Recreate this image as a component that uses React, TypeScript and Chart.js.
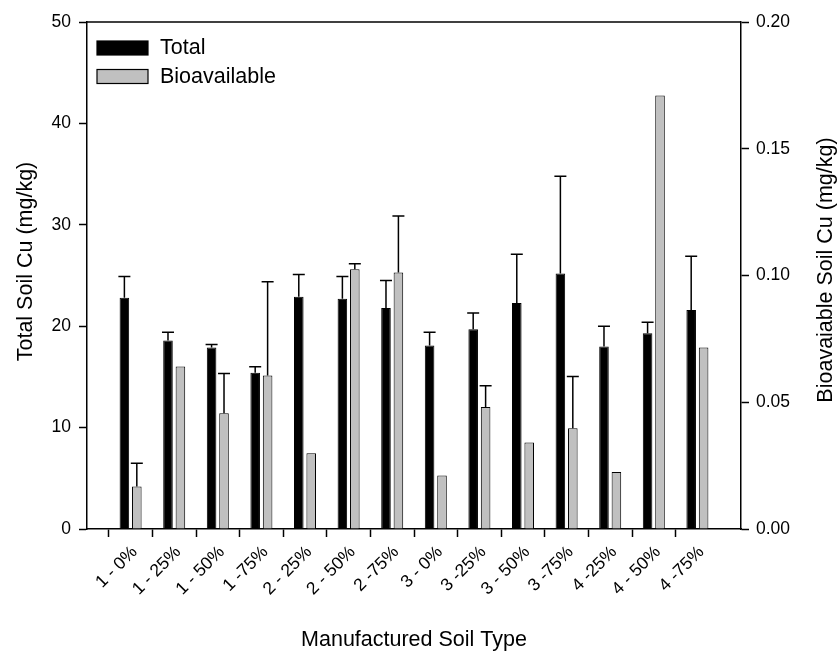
import React, { useEffect, useRef } from 'react';
import { Chart, registerables } from 'chart.js';

Chart.register(...registerables);

// Manufactured soil blends (soil - amendment %)
const categories = [
  '1 - 0%', '1 - 25%', '1 - 50%', '1 -75%', '2 - 25%', '2 - 50%', '2 -75%',
  '3 - 0%', '3 -25%', '3 - 50%', '3 -75%', '4 -25%', '4 - 50%', '4 -75%',
];

// Total soil Cu (mg/kg), left axis
const totalCu = [22.8, 18.6, 17.9, 15.4, 22.9, 22.7, 21.8, 18.1, 19.7, 22.3, 25.2, 18.0, 19.3, 21.6];
const totalCuErr = [2.1, 0.8, 0.3, 0.6, 2.2, 2.2, 2.7, 1.3, 1.6, 4.8, 9.6, 2.0, 1.1, 5.3];

// Bioavailable soil Cu (mg/kg), right axis
const bioCu = [0.0168, 0.0641, 0.0457, 0.0606, 0.0299, 0.1025, 0.1012, 0.0211, 0.0481, 0.0341, 0.0397, 0.0225, 0.171, 0.0716];
const bioCuErr = [0.0091, null, 0.0156, 0.0369, null, 0.0021, 0.0223, null, 0.0084, null, 0.0205, null, null, null];

const leftAxis = { min: 0, max: 50, step: 10 };
const rightAxis = { min: 0, max: 0.2, step: 0.05 };

const seriesNames = ['Total', 'Bioavailable'];
const axisTitles = {
  x: 'Manufactured Soil Type',
  left: 'Total Soil Cu (mg/kg)',
  right: 'Bioavaiable Soil Cu (mg/kg)',
};

const FONT = "'Liberation Sans', Arial, sans-serif";
const GREY = '#c0c0c0';

// pad with an empty slot at each end so the axis spans one extra category on both sides
const pad = (arr: (number | null)[]) => [null, ...arr, null];

const errorBarsPlugin = {
  id: 'errorBars',
  afterDatasetsDraw(chart: any) {
    const ctx = chart.ctx;
    ctx.save();
    ctx.strokeStyle = '#000';
    ctx.lineWidth = 1.5;
    chart.data.datasets.forEach((ds: any, di: number) => {
      const meta = chart.getDatasetMeta(di);
      const yScale = chart.scales[meta.yAxisID];
      meta.data.forEach((el: any, i: number) => {
        const v = ds.data[i];
        const e = ds.errors ? ds.errors[i] : null;
        if (v == null || e == null) return;
        const yTop = yScale.getPixelForValue(v + e);
        ctx.beginPath();
        ctx.moveTo(el.x, el.y);
        ctx.lineTo(el.x, yTop);
        ctx.moveTo(el.x - 6, yTop);
        ctx.lineTo(el.x + 6, yTop);
        ctx.stroke();
      });
    });
    ctx.restore();
  },
};

const decorPlugin = {
  id: 'decor',
  afterDraw(chart: any) {
    const { ctx, chartArea } = chart;
    ctx.save();
    // top frame line
    ctx.strokeStyle = '#000';
    ctx.lineWidth = 1.5;
    ctx.beginPath();
    ctx.moveTo(chartArea.left, chartArea.top);
    ctx.lineTo(chartArea.right, chartArea.top);
    ctx.stroke();

    // legend
    ctx.font = `21.5px ${FONT}`;
    ctx.textBaseline = 'middle';
    ctx.textAlign = 'left';
    chart.data.datasets.forEach((ds: any, i: number) => {
      const by = 41 + i * 28.5;
      ctx.fillStyle = ds.backgroundColor;
      ctx.fillRect(97, by, 51, 14);
      ctx.lineWidth = 1.2;
      ctx.strokeStyle = '#000';
      ctx.strokeRect(97, by, 51, 14);
      ctx.fillStyle = '#000';
      ctx.fillText(ds.label, 160, by + 7.5);
    });

    // axis titles
    ctx.fillStyle = '#000';
    ctx.textBaseline = 'alphabetic';
    ctx.textAlign = 'center';
    ctx.fillText(axisTitles.x, (chartArea.left + chartArea.right) / 2, 646);

    ctx.save();
    ctx.translate(31.5, 261.5);
    ctx.rotate(-Math.PI / 2);
    ctx.fillText(axisTitles.left, 0, 0);
    ctx.restore();

    ctx.save();
    ctx.translate(831.5, 270);
    ctx.rotate(-Math.PI / 2);
    ctx.fillText(axisTitles.right, 0, 0);
    ctx.restore();

    ctx.restore();
  },
};

export default function App() {
  const canvasRef = useRef<HTMLCanvasElement | null>(null);

  useEffect(() => {
    if (!canvasRef.current) return;
    Chart.defaults.color = '#000';
    Chart.defaults.font.family = FONT;

    const labels = ['', ...categories, ''];
    const edgeTick = (c: any) =>
      c.index === 0 || c.index === labels.length - 1 ? 'rgba(0,0,0,0)' : '#000';

    const chart = new Chart(canvasRef.current, {
      type: 'bar',
      data: {
        labels,
        datasets: [
          {
            label: seriesNames[0],
            data: pad(totalCu),
            errors: pad(totalCuErr),
            backgroundColor: '#000',
            borderColor: '#000',
            borderWidth: 1,
            yAxisID: 'y',
            categoryPercentage: 0.57,
            barPercentage: 0.77,
          } as any,
          {
            label: seriesNames[1],
            data: pad(bioCu),
            errors: pad(bioCuErr),
            backgroundColor: GREY,
            borderColor: '#000',
            borderWidth: 1,
            yAxisID: 'y1',
            categoryPercentage: 0.57,
            barPercentage: 0.77,
          } as any,
        ],
      },
      options: {
        responsive: false,
        animation: false,
        layout: { padding: { top: 22, left: 0, right: 0, bottom: 0 } },
        plugins: {
          legend: { display: false },
          tooltip: { enabled: false },
        },
        scales: {
          x: {
            offset: false,
            grid: {
              display: true,
              drawOnChartArea: false,
              drawTicks: true,
              tickLength: 8,
              tickWidth: 1.5,
              tickColor: edgeTick,
            },
            border: { display: true, color: '#000', width: 1.5 },
            ticks: {
              autoSkip: false,
              maxRotation: 45,
              minRotation: 45,
              padding: 5,
              labelOffset: 4,
              font: { size: 17.5, family: FONT },
              color: '#000',
            },
            afterFit: (s: any) => { s.height = 124; },
          },
          y: {
            position: 'left',
            min: leftAxis.min,
            max: leftAxis.max,
            grid: {
              display: true,
              drawOnChartArea: false,
              drawTicks: true,
              tickLength: 8,
              tickWidth: 1.5,
              tickColor: '#000',
            },
            border: { display: true, color: '#000', width: 1.5 },
            ticks: {
              stepSize: leftAxis.step,
              padding: 8,
              font: { size: 17.5, family: FONT },
              color: '#000',
              callback: (v: any) => String(v),
            },
            afterFit: (s: any) => { s.width = 87; },
          },
          y1: {
            position: 'right',
            min: rightAxis.min,
            max: rightAxis.max,
            grid: {
              display: true,
              drawOnChartArea: false,
              drawTicks: true,
              tickLength: 8,
              tickWidth: 1.5,
              tickColor: '#000',
            },
            border: { display: true, color: '#000', width: 1.5 },
            ticks: {
              stepSize: rightAxis.step,
              padding: 7,
              font: { size: 17.5, family: FONT },
              color: '#000',
              callback: (v: any) => Number(v).toFixed(2),
            },
            afterFit: (s: any) => { s.width = 96; },
          },
        },
      } as any,
      plugins: [errorBarsPlugin, decorPlugin],
    });

    return () => chart.destroy();
  }, []);

  return (
    <div style={{ position: 'absolute', left: 0, top: 0, width: 837, height: 653, background: '#fff' }}>
      <canvas ref={canvasRef} width={837} height={653} style={{ display: 'block' }} />
    </div>
  );
}
